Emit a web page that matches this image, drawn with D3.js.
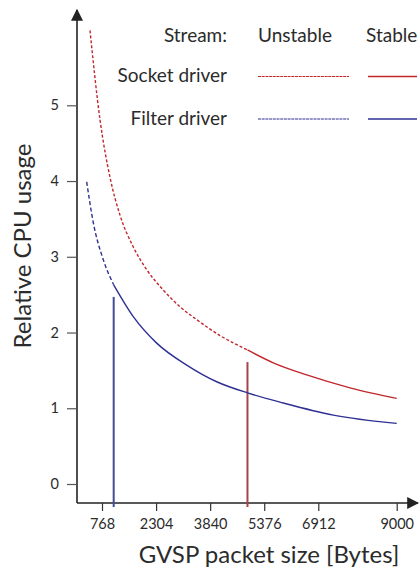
<!DOCTYPE html>
<html>
<head>
<meta charset="utf-8">
<script src="https://cdn.jsdelivr.net/npm/d3@7"></script>
<style>
  html, body { margin: 0; padding: 0; background: #fff; }
  svg { display: block; }
  text { font-family: Lato, "Open Sans", sans-serif; fill: #2b2b2b; }
</style>
</head>
<body>
<div id="chart"></div>
<script>
// ---- data ----
const xTicks = [768, 2304, 3840, 5376, 6912, 9000];
const yTicks = [0, 1, 2, 3, 4, 5];

const socketBytes = [427, 711, 995, 1279, 1657, 2038, 2509, 2984, 3458, 4120, 4900, 5634, 6583, 7755, 9000];
const socketUsage = [5.99, 4.81, 4.05, 3.55, 3.13, 2.83, 2.56, 2.34, 2.17, 1.96, 1.77, 1.60, 1.44, 1.27, 1.13];

const filterBytes = [333, 521, 805, 1100, 1657, 2322, 3174, 4026, 4924, 5918, 7312, 9000];
const filterUsage = [3.99, 3.45, 2.96, 2.63, 2.21, 1.86, 1.57, 1.35, 1.20, 1.07, 0.91, 0.80];

const stableFrom = [4900, 1100];          // socket, filter: packet size where stream becomes stable
const markerHeight = [1.61, 2.47];        // height of vertical threshold markers
const seriesNames = ["Socket driver", "Filter driver"];
const streamHeaders = ["Stream:", "Unstable", "Stable"];
const colors = ["#c1272d", "#2e3192"];
const markerColors = ["#a4454b", "#434d96"];

// ---- layout ----
const W = 420, H = 570;
const svg = d3.select("#chart").append("svg").attr("width", W).attr("height", H);

const axisX0 = 77, axisY0 = 503;
const x = d3.scaleLinear().domain([768, 6912, 9000]).range([102, 318.3, 396.7]);
const y = d3.scaleLinear().domain([0, 5]).range([484, 105.3]);

// axes lines with arrows
const defs = svg.append("defs");
defs.append("marker").attr("id", "arrow").attr("viewBox", "0 0 10 10")
  .attr("refX", 9).attr("refY", 5).attr("markerWidth", 12).attr("markerHeight", 12)
  .attr("markerUnits", "userSpaceOnUse").attr("orient", "auto")
  .append("path").attr("d", "M0,0 L10,5 L0,10 Z").attr("fill", "#222");

svg.append("line").attr("x1", axisX0).attr("y1", axisY0).attr("x2", axisX0).attr("y2", 10)
  .attr("stroke", "#222").attr("stroke-width", 1.6).attr("marker-end", "url(#arrow)");
svg.append("line").attr("x1", axisX0).attr("y1", axisY0).attr("x2", 418).attr("y2", axisY0)
  .attr("stroke", "#222").attr("stroke-width", 1.6).attr("marker-end", "url(#arrow)");

// y ticks
const yAxis = d3.axisLeft(y).tickValues(yTicks).tickSize(10).tickPadding(8).tickFormat(d3.format("d"));
const gy = svg.append("g").attr("transform", `translate(${axisX0},0)`).call(yAxis);
gy.select(".domain").remove();
gy.selectAll(".tick line").attr("stroke", "#555").attr("stroke-width", 1.2);
gy.selectAll(".tick text").style("font-size", "14.5px").attr("fill", "#2b2b2b");

// x ticks
const xAxis = d3.axisBottom(x).tickValues(xTicks).tickSize(8).tickPadding(8).tickFormat(d3.format("d"));
const gx = svg.append("g").attr("transform", `translate(0,${axisY0})`).call(xAxis);
gx.select(".domain").remove();
gx.selectAll(".tick line").attr("stroke", "#333").attr("stroke-width", 1.2);
gx.selectAll(".tick text").style("font-size", "14.5px").attr("fill", "#2b2b2b");

// axis titles
svg.append("text").attr("transform", "translate(31,246) rotate(-90)")
  .attr("text-anchor", "middle").style("font-size", "24px").attr("fill", "#333")
  .text("Relative CPU usage");
svg.append("text").attr("x", 269).attr("y", 563)
  .attr("text-anchor", "middle").style("font-size", "24px").attr("fill", "#333")
  .text("GVSP packet size [Bytes]");

// curves
const line = d3.line().x(d => x(d[0])).y(d => y(d[1])).curve(d3.curveMonotoneX);
const series = [
  d3.zip(socketBytes, socketUsage),
  d3.zip(filterBytes, filterUsage)
];
const dashes = ["3,2", "4,2.5"];
series.forEach((pts, i) => {
  const unstable = pts.filter(p => p[0] <= stableFrom[i]);
  const stable = pts.filter(p => p[0] >= stableFrom[i]);
  svg.append("path").attr("d", line(unstable)).attr("fill", "none")
    .attr("stroke", colors[i]).attr("stroke-width", 1.4).attr("stroke-dasharray", dashes[i]);
  svg.append("path").attr("d", line(stable)).attr("fill", "none")
    .attr("stroke", colors[i]).attr("stroke-width", 1.4);
  // threshold marker
  svg.append("line").attr("x1", x(stableFrom[i])).attr("x2", x(stableFrom[i]))
    .attr("y1", y(markerHeight[i])).attr("y2", axisY0 + 4)
    .attr("stroke", markerColors[i]).attr("stroke-width", 2);
});

// legend
const legendRowY = [76.5, 119];
const fs = "19px";
svg.append("text").attr("x", 227).attr("y", 42).attr("text-anchor", "end")
  .style("font-size", fs).text(streamHeaders[0]);
svg.append("text").attr("x", 258).attr("y", 42).style("font-size", fs).text(streamHeaders[1]);
svg.append("text").attr("x", 366).attr("y", 42).style("font-size", fs).text(streamHeaders[2]);
seriesNames.forEach((name, i) => {
  svg.append("text").attr("x", 227).attr("y", legendRowY[i] + 5.5).attr("text-anchor", "end")
    .style("font-size", fs).text(name);
  svg.append("line").attr("x1", 258).attr("x2", 349).attr("y1", legendRowY[i]).attr("y2", legendRowY[i])
    .attr("stroke", colors[i]).attr("stroke-width", 1.2).attr("stroke-dasharray", "3,0.7");
  svg.append("line").attr("x1", 368).attr("x2", 417).attr("y1", legendRowY[i]).attr("y2", legendRowY[i])
    .attr("stroke", colors[i]).attr("stroke-width", 1.4);
});
</script>
</body>
</html>
